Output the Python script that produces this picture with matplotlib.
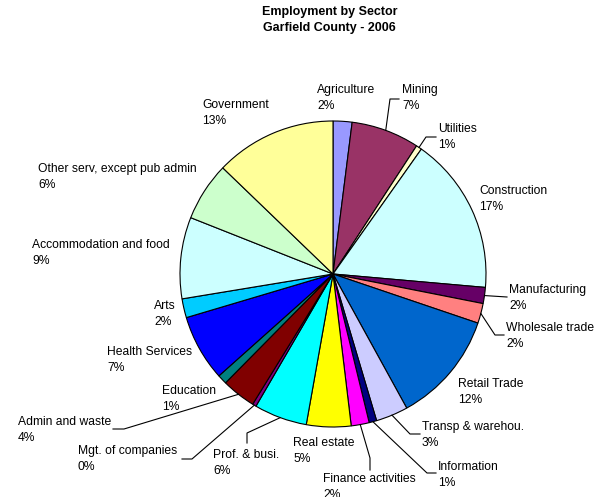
import numpy as np
import matplotlib
matplotlib.use("Agg")
import matplotlib.pyplot as plt

# employment share by sector, percent, clockwise from 12 o'clock
sectors = ["Agriculture", "Mining", "Utilities", "Construction", "Manufacturing",
           "Wholesale trade", "Retail Trade", "Transp & warehou.", "Information",
           "Finance activities", "Real estate", "Prof. & busi.", "Mgt. of companies",
           "Admin and waste", "Education", "Health Services", "Arts",
           "Accommodation and food", "Other serv, except pub admin", "Government"]
shares = [2.0, 7.2, 0.6, 16.6, 1.7, 2.1, 11.8, 3.4, 0.8, 1.9,
          4.7, 5.6, 0.4, 3.6, 1.0, 7.0, 2.0, 8.6, 6.2, 12.8]
colors = ["#9999FF", "#993366", "#FFFFCC", "#CCFFFF", "#660066",
          "#FF8080", "#0066CC", "#CCCCFF", "#000080", "#FF00FF",
          "#FFFF00", "#00FFFF", "#800080", "#800000", "#008080",
          "#0000FF", "#00CCFF", "#CCFFFF", "#CCFFCC", "#FFFF99"]

W, H = 608, 497
CX, CY, R = 333, 274, 153

# label anchors (left edge, vertical centre) in pixel space
label_pos = {
    "Agriculture": (317, 98), "Mining": (402, 98), "Utilities": (438, 137),
    "Construction": (479, 199), "Manufacturing": (509, 298),
    "Wholesale trade": (506, 336), "Retail Trade": (458, 392),
    "Transp & warehou.": (422, 435), "Information": (438, 475),
    "Finance activities": (323, 487), "Real estate": (293, 451),
    "Prof. & busi.": (213, 463), "Mgt. of companies": (78, 459),
    "Admin and waste": (18, 430), "Education": (162, 399),
    "Health Services": (107, 360), "Arts": (154, 314),
    "Accommodation and food": (32, 253),
    "Other serv, except pub admin": (38, 177), "Government": (202, 113),
}
# leader lines: elbow then end point
leaders = {
    "Mining": [(390, 99), (399, 99)],
    "Utilities": [(426, 137), (436, 137)],
    "Manufacturing": [(507, 297)],
    "Wholesale trade": [(495, 335), (504, 335)],
    "Transp & warehou.": [(410, 434), (420, 434)],
    "Information": [(427, 473), (436, 473)],
    "Finance activities": [(370, 458), (370, 470)],
    "Prof. & busi.": [(247, 433), (247, 443)],
    "Mgt. of companies": [(192, 459), (182, 459)],
    "Admin and waste": [(124, 429), (113, 429)],
}

plt.rcParams["font.family"] = ["Liberation Sans", "DejaVu Sans"]

fig = plt.figure(figsize=(W / 100, H / 100), dpi=100)
ax = fig.add_axes([0, 0, 1, 1])

wedges, _ = ax.pie(shares, colors=colors, startangle=90, counterclock=False,
                   center=(CX, H - CY), radius=R,
                   wedgeprops=dict(edgecolor="black", linewidth=0.8))
ax.set_xlim(0, W)
ax.set_ylim(0, H)
ax.set_aspect("equal")
ax.axis("off")

total = sum(shares)
for w, name, v in zip(wedges, sectors, shares):
    x, y = label_pos[name]
    ax.text(x, H - y, f"{name}\n{round(v / total * 100):.0f}%", ha="left",
            va="center", fontsize=8.7, linespacing=1.5, color="black")
    if name in leaders:
        mid = np.deg2rad((w.theta1 + w.theta2) / 2)
        pts = [(CX + R * np.cos(mid), H - CY + R * np.sin(mid))]
        pts += [(px, H - py) for px, py in leaders[name]]
        xs, ys = zip(*pts)
        ax.plot(xs, ys, color="black", lw=0.8)

fig.text(329.5 / W, 1 - 20 / H, "Employment by Sector\nGarfield County - 2006",
         ha="center", va="center", fontsize=9, fontweight="bold", linespacing=1.4)

fig.savefig("out.png", dpi=100)
